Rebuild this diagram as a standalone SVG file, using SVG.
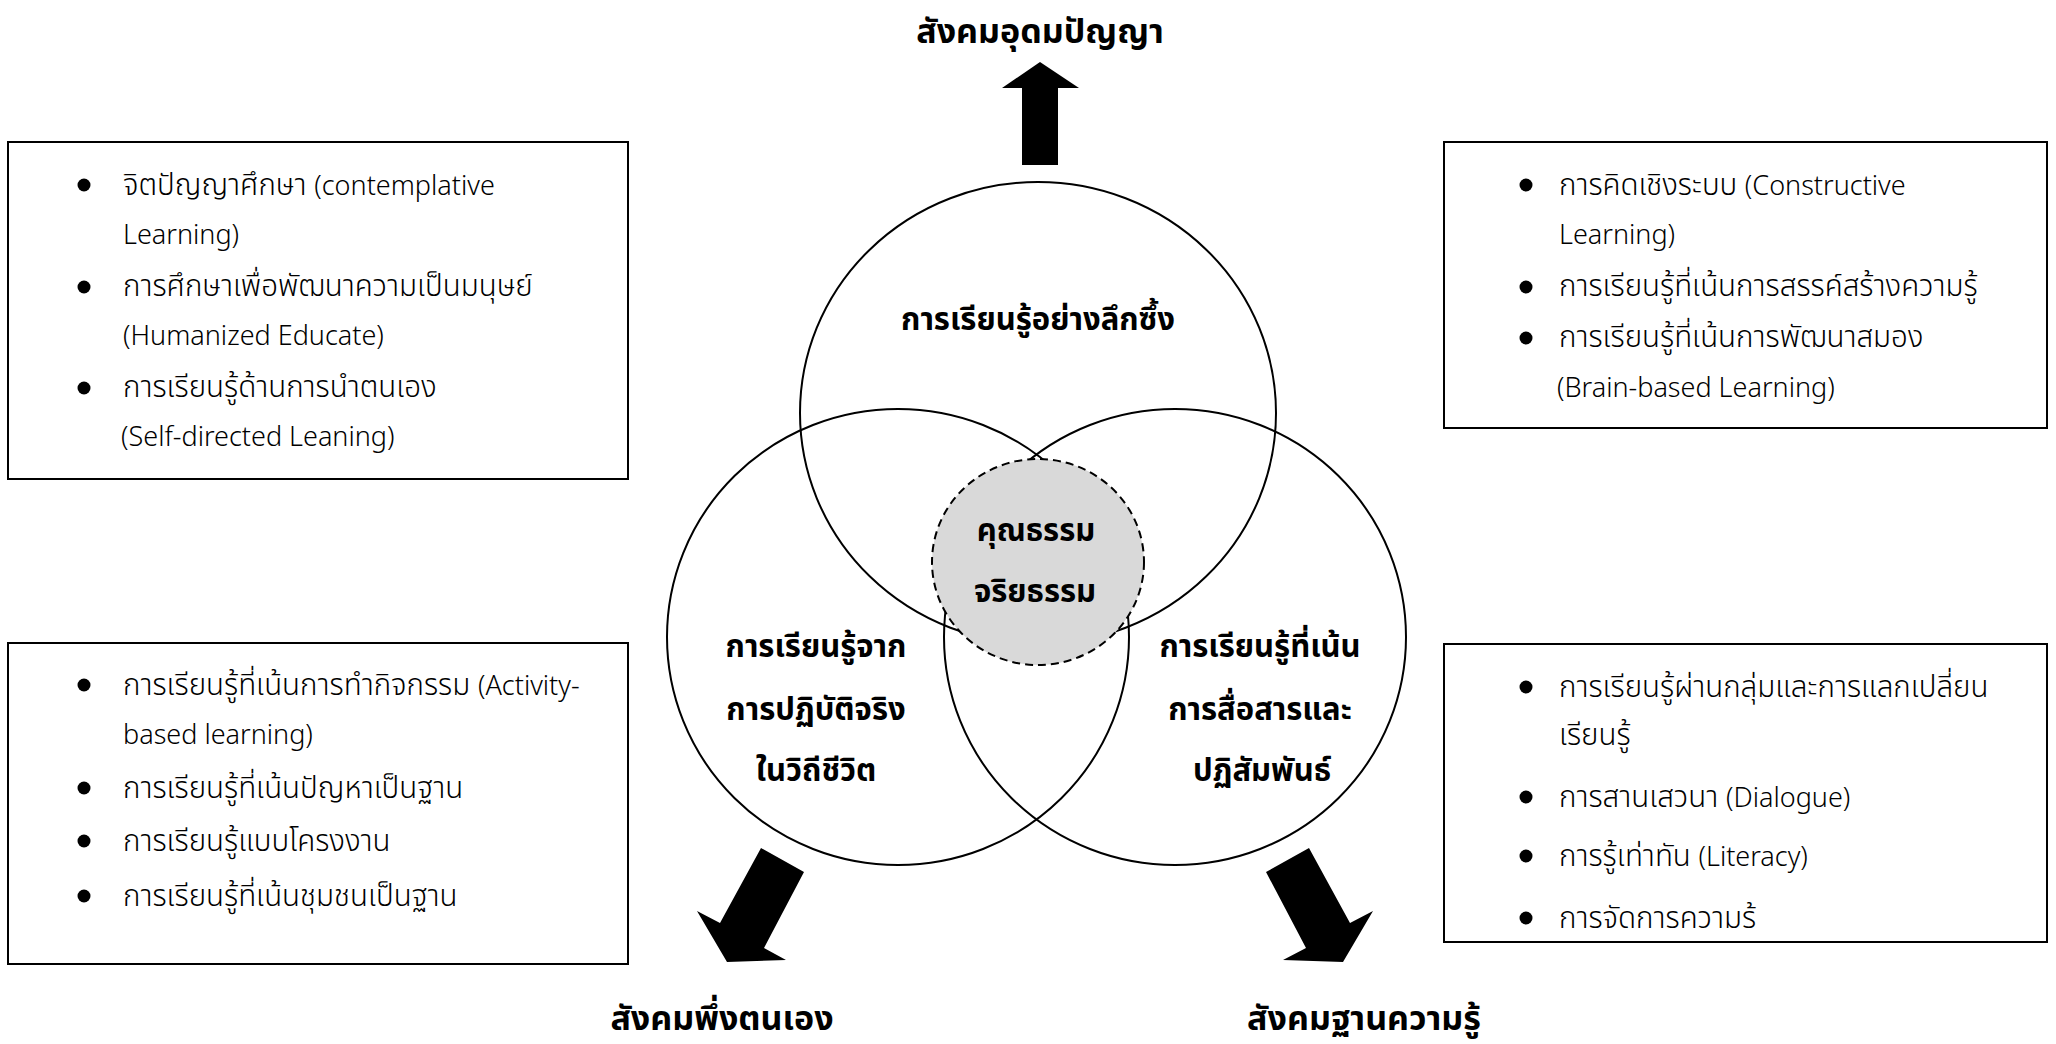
<svg xmlns="http://www.w3.org/2000/svg" width="2056" height="1044" viewBox="0 0 2056 1044">
<style>
.box{fill:#fff;stroke:#000;stroke-width:2}
.ring{fill:none;stroke:#000;stroke-width:2}
.li{font-family:'Noto Sans Thai','Noto Sans Thai UI','Open Sans','Noto Sans',sans-serif;font-size:29.5px;fill:#000;font-weight:300}
.en{font-size:27px}
.lb{font-family:'Noto Sans Thai','Noto Sans Thai UI','Noto Sans',sans-serif;font-size:31px;font-weight:bold;fill:#000;text-anchor:middle}
.ttl{font-family:'Noto Sans Thai','Noto Sans Thai UI','Noto Sans',sans-serif;font-size:34px;font-weight:bold;fill:#000;text-anchor:middle}
.dot{fill:#000}
.arr{fill:#000}
</style>
<rect width="2056" height="1044" fill="#fff"/>

<g id="connectors">
<polygon class="arr" points="1022,165 1058,165 1058,88 1079,88 1040,62 1002,88 1022,88"/>
<polygon class="arr" points="761,848 804,872 764,948 786,960 727,962 697,911 720,923"/>
<polygon class="arr" points="1309,848 1266,872 1306,948 1283,960 1343,962 1373,911 1350,923"/>
</g>

<g id="circle-top">
<ellipse class="ring" cx="1038" cy="413" rx="238" ry="231"/>
<text class="lb" x="1038" y="330">การเรียนรู้อย่างลึกซึ้ง</text>
</g>
<g id="circle-left">
<ellipse class="ring" cx="898" cy="637" rx="231" ry="228"/>
<text class="lb" x="816" y="657">การเรียนรู้จาก</text>
<text class="lb" x="816" y="720">การปฏิบัติจริง</text>
<text class="lb" x="816" y="781">ในวิถีชีวิต</text>
</g>
<g id="circle-right">
<ellipse class="ring" cx="1175" cy="637" rx="231" ry="228"/>
<text class="lb" x="1260" y="657">การเรียนรู้ที่เน้น</text>
<text class="lb" x="1260" y="720">การสื่อสารและ</text>
<text class="lb" x="1262" y="781">ปฏิสัมพันธ์</text>
</g>
<g id="center">
<ellipse cx="1038" cy="562" rx="106" ry="103" fill="#d9d9d9" stroke="#000" stroke-width="2" stroke-dasharray="8,5"/>
<text class="lb" x="1036" y="541">คุณธรรม</text>
<text class="lb" x="1035" y="602">จริยธรรม</text>
</g>

<g id="title-top"><text class="ttl" x="1040" y="43">สังคมอุดมปัญญา</text></g>
<g id="title-left"><text class="ttl" x="722" y="1030">สังคมพึ่งตนเอง</text></g>
<g id="title-right"><text class="ttl" x="1364" y="1030">สังคมฐานความรู้</text></g>

<g id="box-top-left">
<rect class="box" x="8" y="142" width="620" height="337"/>
<circle class="dot" cx="84" cy="185" r="6.5"/>
<circle class="dot" cx="84" cy="287" r="6.5"/>
<circle class="dot" cx="84" cy="388" r="6.5"/>
<text class="li" x="123" y="195">จิตปัญญาศึกษา <tspan class="en">(contemplative</tspan></text>
<text class="li en" x="123" y="244">Learning)</text>
<text class="li" x="123" y="296">การศึกษาเพื่อพัฒนาความเป็นมนุษย์</text>
<text class="li en" x="123" y="345">(Humanized Educate)</text>
<text class="li" x="123" y="397">การเรียนรู้ด้านการนำตนเอง</text>
<text class="li en" x="121" y="446">(Self-directed Leaning)</text>
</g>

<g id="box-top-right">
<rect class="box" x="1444" y="142" width="603" height="286"/>
<circle class="dot" cx="1526" cy="185" r="6.5"/>
<circle class="dot" cx="1526" cy="287" r="6.5"/>
<circle class="dot" cx="1526" cy="338" r="6.5"/>
<text class="li" x="1559" y="195">การคิดเชิงระบบ <tspan class="en">(Constructive</tspan></text>
<text class="li en" x="1559" y="244">Learning)</text>
<text class="li" x="1559" y="296">การเรียนรู้ที่เน้นการสรรค์สร้างความรู้</text>
<text class="li" x="1559" y="347">การเรียนรู้ที่เน้นการพัฒนาสมอง</text>
<text class="li en" x="1557" y="397">(Brain-based Learning)</text>
</g>

<g id="box-bottom-left">
<rect class="box" x="8" y="643" width="620" height="321"/>
<circle class="dot" cx="84" cy="685" r="6.5"/>
<circle class="dot" cx="84" cy="788" r="6.5"/>
<circle class="dot" cx="84" cy="841" r="6.5"/>
<circle class="dot" cx="84" cy="896" r="6.5"/>
<text class="li" x="123" y="695">การเรียนรู้ที่เน้นการทำกิจกรรม <tspan class="en">(Activity-</tspan></text>
<text class="li en" x="123" y="744">based learning)</text>
<text class="li" x="123" y="798">การเรียนรู้ที่เน้นปัญหาเป็นฐาน</text>
<text class="li" x="123" y="851">การเรียนรู้แบบโครงงาน</text>
<text class="li" x="123" y="906">การเรียนรู้ที่เน้นชุมชนเป็นฐาน</text>
</g>

<g id="box-bottom-right">
<rect class="box" x="1444" y="644" width="603" height="298"/>
<circle class="dot" cx="1526" cy="687" r="6.5"/>
<circle class="dot" cx="1526" cy="797" r="6.5"/>
<circle class="dot" cx="1526" cy="856" r="6.5"/>
<circle class="dot" cx="1526" cy="918" r="6.5"/>
<text class="li" x="1559" y="697">การเรียนรู้ผ่านกลุ่มและการแลกเปลี่ยน</text>
<text class="li" x="1559" y="745">เรียนรู้</text>
<text class="li" x="1559" y="807">การสานเสวนา <tspan class="en">(Dialogue)</tspan></text>
<text class="li" x="1559" y="866">การรู้เท่าทัน <tspan class="en">(Literacy)</tspan></text>
<text class="li" x="1559" y="928">การจัดการความร้</text>
</g>
</svg>
